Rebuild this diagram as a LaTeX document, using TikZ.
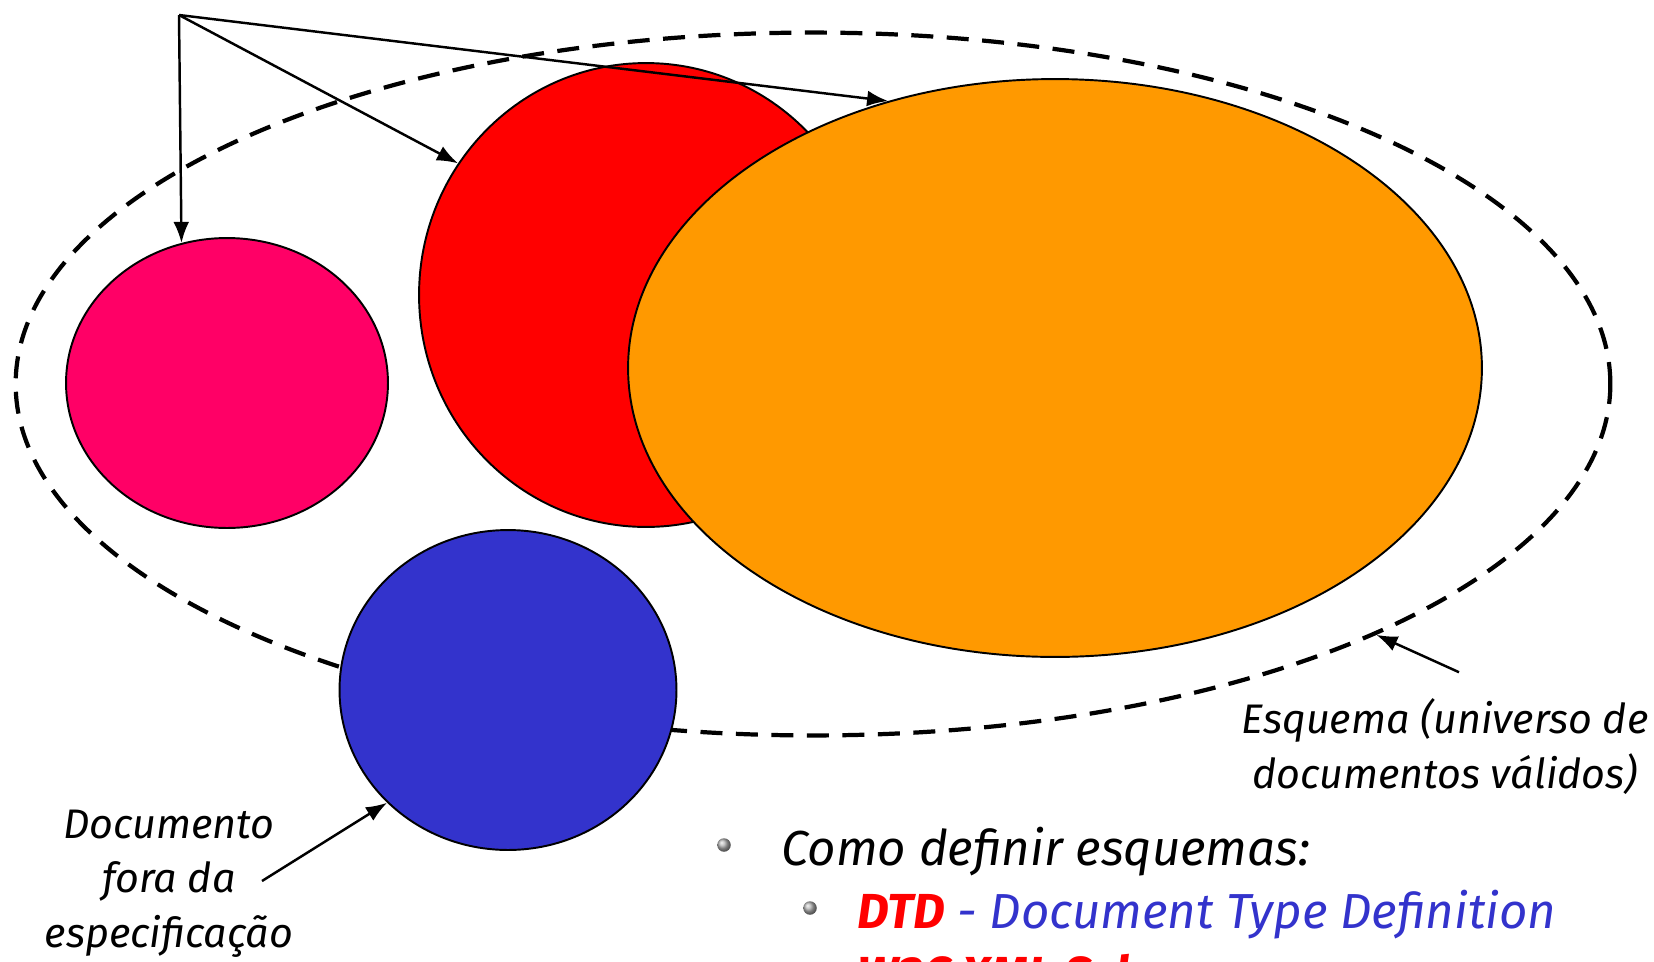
\documentclass[tikz,border=0pt]{standalone}
\usepackage{fontspec}
\setmainfont{Fira Sans}
\usetikzlibrary{shapes.geometric}
\usetikzlibrary{positioning}
\usetikzlibrary{arrows.meta}
\definecolor{pink}{RGB}{255,0,102}
\definecolor{red}{RGB}{255,0,0}
\definecolor{orange}{RGB}{255,153,0}
\definecolor{blue}{RGB}{51,51,204}
\definecolor{plum}{RGB}{153,51,102}

\tikzset{
  docset/.style={ellipse, draw=black, line width=1.1pt, inner sep=0pt},
  pointer/.style={-{Latex[length=12pt,width=9pt]}, line width=1.4pt},
  remark/.style={font=\fontsize{23.5}{31}\selectfont\itshape, align=center, inner sep=0pt},
  item/.style={font=\fontsize{28}{34}\selectfont\itshape, inner sep=0pt, anchor=base west},
  bulletball/.style={circle, ball color=gray!60, minimum size=0.27cm, inner sep=0pt},
}

\begin{document}
\begin{tikzpicture}[x=0.02cm, y=-0.02cm]
\useasboundingbox (0,0) rectangle (1654,961);

%---------------------------------------
% Schema (universe of valid documents)
%---------------------------------------
\node[ellipse, draw, line width=2.4pt, dash pattern=on 0.44cm off 0.27cm,
      minimum width=31.9cm, minimum height=14.06cm] (schema) at (813,384) {};

%---------------------------------------
% Documents
%---------------------------------------
\node[docset, fill=pink,   minimum width=6.44cm,  minimum height=5.8cm]   (pink)   at (227,383)  {};
\node[docset, fill=red,    minimum width=9.08cm,  minimum height=9.28cm]  (red)    at (646,295)  {};
\node[docset, fill=orange, minimum width=17.08cm, minimum height=11.56cm] (orange) at (1055,368) {};
\node[docset, fill=blue,   minimum width=6.74cm,  minimum height=6.4cm]   (blue)   at (508,690)  {};

% ---- Instances ----
\coordinate (src) at (179,15);
\draw[pointer] (src) -- (pink.108);
\draw[pointer] (src) -- (red.145);
\draw[pointer] (src) -- (orange.122);

% ---- Labels ----
\node[remark, anchor=base] (esq) at (1445,788)
  {Esquema (universo de\\documentos válidos)};
\draw[pointer] ([shift={(14,-26)}]esq.north) -- (schema.-24);

\node[remark, anchor=base] (fora) at (169,947)
  {Documento\\fora da\\especificação};
\coordinate (forafrom) at (262,881);
\draw[pointer] (forafrom) -- (blue.223);

%---------------------------------------
% Text of the slide
%---------------------------------------
\node[item, font=\fontsize{28}{34}\selectfont\bfseries\itshape, text=plum] (title) at (933,-1)
  {de documentos são \textcolor{red}{instâncias}};

\node[bulletball] (b1) at (724,845) {};
\node[item] (como) at (781,865) {Como definir esquemas:};
\node[bulletball] (b2) at (810,908) {};
\node[item, text=blue] (dtd) at (857,928)
  {\textcolor{red}{\bfseries DTD} - Document Type Definition};
\node[item, text=red, font=\fontsize{28}{34}\selectfont\bfseries\itshape] (xsd) at (857,991)
  {W3C XML Schema};

\end{tikzpicture}
\end{document}
